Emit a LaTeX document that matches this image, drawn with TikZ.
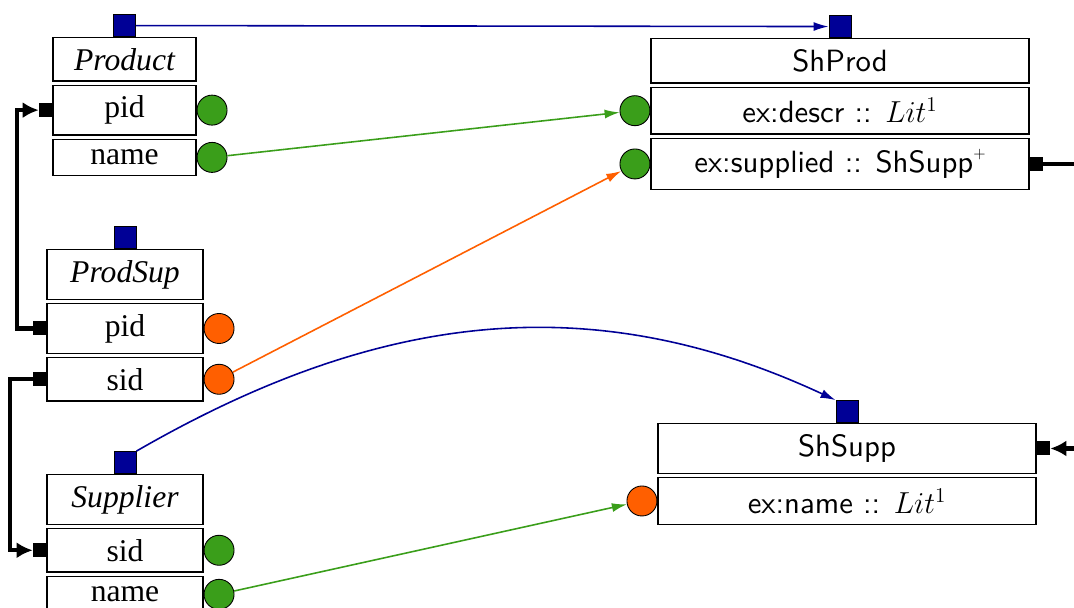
\documentclass[tikz,border=0pt]{standalone}
\usepackage{fontspec}
\newfontfamily\tabfont{Liberation Serif}
\newfontfamily\shfont{lmsans10-regular.otf}
\usetikzlibrary{positioning}
\usetikzlibrary{arrows.meta}
\definecolor{keyblue}{RGB}{0,0,150}
\definecolor{colgreen}{RGB}{58,158,26}
\definecolor{colorange}{RGB}{255,95,0}
\newcommand{\plussup}{\raisebox{1.05ex}{\fontsize{9}{9}\selectfont+}}

\begin{document}
\begin{tikzpicture}[
    node distance=0.06cm,
    tab/.style={rectangle,draw=black,line width=0.7pt,fill=white,inner ysep=6pt,minimum width=#1,font=\fontsize{18}{20}\tabfont},
    tab/.default=3.12cm,
    ttab/.style={tab=#1,font=\fontsize{18}{20}\tabfont\itshape},
    ttab/.default=3.12cm,
    shp/.style={rectangle,draw=black,line width=0.7pt,fill=white,inner ysep=6.2pt,minimum width=7.56cm,font=\fontsize{17.5}{20}\shfont},
    nodesq/.style={rectangle,draw=black,line width=0.5pt,fill=keyblue,minimum size=0.44cm,inner sep=0pt},
    gdot/.style={circle,draw=black,line width=0.5pt,fill=colgreen,minimum size=0.6cm,inner sep=0pt},
    odot/.style={gdot,fill=colorange},
    fkey/.style={rectangle,fill=black,minimum width=0.26cm,minimum height=0.28cm,inner sep=0pt},
    fk/.style={line width=2.4pt,-{Latex[length=0.32cm,width=0.32cm]}},
    ref/.style={keyblue,line width=0.9pt,-{Latex[length=0.3cm,width=0.18cm]}},
    garr/.style={ref,colgreen},
    oarr/.style={ref,colorange}
    ]
    \useasboundingbox (0,0) rectangle (21.48,12.16);
    % tables
    \node (prod) [ttab=2.86cm,anchor=north] at (2.49,11.42) {Product};
    \node (prodpid) [tab=2.86cm,below=of prod] {pid};
    \node (prodname) [tab=2.86cm,below=of prodpid] {name};
    \node (prodsup) [ttab,anchor=north] at (2.5,7.18) {ProdSup};
    \node (pspid) [tab,below=of prodsup] {pid};
    \node (pssid) [tab,below=of pspid] {sid};
    \node (supp) [ttab,anchor=north] at (2.5,2.68) {Supplier};
    \node (suppsid) [tab,below=of supp] {sid};
    \node (suppname) [tab,below=of suppsid] {name};
    \node (prodsq) [nodesq,above=0pt of prod] {};
    \node (pssq) [nodesq,above=0pt of prodsup] {};
    \node (suppsq) [nodesq,above=0pt of supp] {};
    \node (prodpidc) [gdot,right=0pt of prodpid] {};
    \node (prodnamec) [gdot,right=0pt of prodname] {};
    \node (pspidc) [odot,right=0pt of pspid] {};
    \node (pssidc) [odot,right=0pt of pssid] {};
    \node (suppsidc) [gdot,right=0pt of suppsid] {};
    \node (suppnamec) [gdot,right=0pt of suppname] {};
    \node (prodpidk) [fkey,left=0pt of prodpid] {};
    \node (pspidk) [fkey,left=0pt of pspid] {};
    \node (pssidk) [fkey,left=0pt of pssid] {};
    \node (suppsidk) [fkey,left=0pt of suppsid] {};
    % shapes
    \node (shprod) [shp,anchor=north] at (16.8,11.40) {ShProd};
    \node (spdescr) [shp,below=of shprod] {ex:descr :: $Lit^1$};
    \node (spsupp) [shp,below=of spdescr] {ex:supplied :: ShSupp\plussup};
    \node (shsupp) [shp,anchor=north] at (16.94,3.70) {ShSupp};
    \node (ssname) [shp,below=of shsupp] {ex:name :: $Lit^1$};
    \node (spsq) [nodesq,above=0pt of shprod] {};
    \node (sssq) [nodesq,above=0pt of shsupp] {};
    \node (spdescrc) [gdot,left=0pt of spdescr] {};
    \node (spsuppc) [gdot,left=0pt of spsupp] {};
    \node (ssnamec) [odot,left=0pt of ssname] {};
    \node (spsuppk) [fkey,right=0pt of spsupp] {};
    \node (shsuppk) [fkey,right=0pt of shsupp] {};
    % foreign keys
    \draw[fk] (pspidk.west) -- ++(-0.32,0) |- (prodpidk.west);
    \draw[fk] (pssidk.west) -- ++(-0.46,0) |- (suppsidk.west);
    \draw[fk] (spsuppk.east) -- ++(1.2,0) |- (shsuppk.east);
    % mappings
    \draw[ref] (prodsq.east) -- (spsq.west);
    \draw[ref] (suppsq.north east) to[out=30,in=155] (sssq.north west);
    \draw[garr] (prodnamec) -- (spdescrc);
    \draw[oarr] (pssidc) -- (spsuppc);
    \draw[garr] (suppnamec) -- (ssnamec);
\end{tikzpicture}
\end{document}
